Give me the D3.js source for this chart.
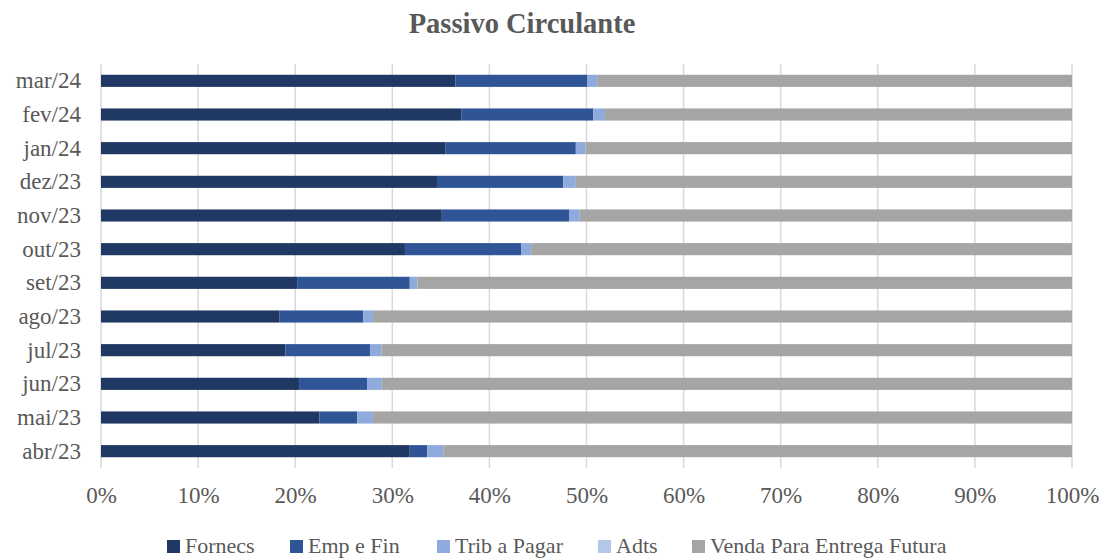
<!DOCTYPE html>
<html><head><meta charset="utf-8">
<script src="https://cdn.jsdelivr.net/npm/d3@7"></script>
<style>body{margin:0;background:#fff;} svg{display:block;} text{font-family:'Liberation Serif','Times New Roman',serif;}</style>
</head><body>
<svg id="c" width="1103" height="558"></svg>
<script>
const categories = ["mar/24","fev/24","jan/24","dez/23","nov/23","out/23","set/23","ago/23","jul/23","jun/23","mai/23","abr/23"];
const seriesNames = ["Fornecs","Emp e Fin","Trib a Pagar","Adts","Venda Para Entrega Futura"];
const fornecs = [36.5,37.1,35.5,34.6,35.1,31.3,20.2,18.4,19.0,20.4,22.5,31.8];
const empFin  = [13.6,13.6,13.4,13.0,13.1,12.0,11.6, 8.6, 8.7, 7.0, 3.9, 1.8];
const trib    = [ 1.0, 1.2, 1.0, 1.3, 1.1, 1.0, 0.8, 1.0, 1.2, 1.5, 1.6, 1.7];
const adts    = [ 0.0, 0.0, 0.0, 0.0, 0.0, 0.0, 0.0, 0.0, 0.0, 0.0, 0.0, 0.0];
const venda   = [48.9,48.1,50.1,51.1,50.7,55.7,67.4,72.0,71.1,71.1,72.0,64.7];
const colors = ["#203864","#2F5597","#8FAADC","#B4C7E7","#A5A5A5"];
const xTicks = [0,0.1,0.2,0.3,0.4,0.5,0.6,0.7,0.8,0.9,1.0];

const rows = categories.map((c,i)=>{
  const vals=[fornecs[i],empFin[i],trib[i],adts[i],venda[i]];
  const tot=d3.sum(vals);
  const o={cat:c};
  seriesNames.forEach((s,j)=>o[s]=vals[j]/tot);
  return o;
});
const stack = d3.stack().keys(seriesNames)(rows);

const svg = d3.select("#c");
const font = "'Liberation Serif','Times New Roman',serif";
const txt = "#595959";
const m = {l:101, r:1072, t:64, b:468};
const x = d3.scaleLinear().domain([0,1]).range([m.l,m.r]);
const y = d3.scaleBand().domain(categories).range([m.t,m.b]).paddingInner(0.64).paddingOuter(0.32);

svg.append("text").attr("x",522).attr("y",33).attr("text-anchor","middle")
  .style("font-family",font).style("font-size","28.5px").style("font-weight","bold").attr("fill",txt)
  .text("Passivo Circulante");

// gridlines
svg.append("g").selectAll("line").data(xTicks).join("line")
  .attr("x1",d=>x(d)).attr("x2",d=>x(d)).attr("y1",m.t).attr("y2",m.b)
  .attr("stroke","#D9D9D9").attr("stroke-width",1.5);

// bars
svg.append("g").selectAll("g").data(stack).join("g")
  .attr("fill",(d,i)=>colors[i])
  .selectAll("rect").data(d=>d).join("rect")
  .attr("x",d=>x(d[0])).attr("width",d=>Math.max(0,x(d[1])-x(d[0])))
  .attr("y",d=>y(d.data.cat)).attr("height",y.bandwidth());

// x axis
const xa = svg.append("g").attr("transform",`translate(0,${m.b})`)
  .call(d3.axisBottom(x).tickValues(xTicks).tickFormat(d3.format(".0%")).tickSize(0).tickPadding(19));
xa.select(".domain").remove();
xa.selectAll("text").style("font-family",font).style("font-size","23px").attr("fill",txt);

// y axis
const ya = svg.append("g").attr("transform",`translate(${m.l},0)`)
  .call(d3.axisLeft(y).tickSize(0).tickPadding(20));
ya.select(".domain").remove();
ya.selectAll("text").style("font-family",font).style("font-size","23px").attr("fill",txt);

// legend
const legX = [167,290,437,598,692];
const lg = svg.append("g").selectAll("g").data(seriesNames).join("g")
  .attr("transform",(d,i)=>`translate(${legX[i]},553)`);
lg.append("rect").attr("x",0).attr("y",-13).attr("width",13).attr("height",13).attr("fill",(d,i)=>colors[i]);
lg.append("text").attr("x",18).attr("y",0)
  .style("font-family",font).style("font-size","22px").attr("fill",txt).text(d=>d);
</script>
</body></html>
